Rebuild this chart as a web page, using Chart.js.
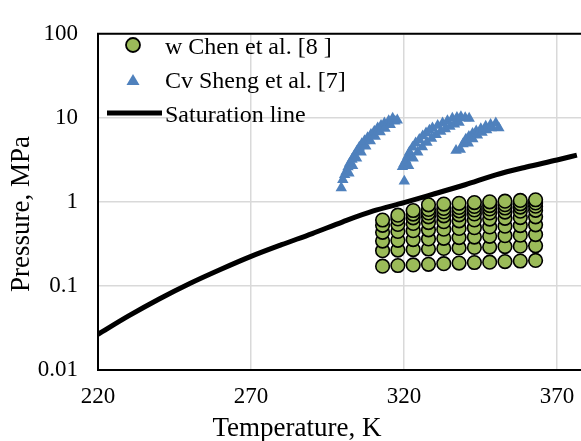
<!DOCTYPE html>
<html>
<head>
<meta charset="utf-8">
<script src="https://cdn.jsdelivr.net/npm/chart.js@4.4.0/dist/chart.umd.min.js"></script>
<style>
  html, body { margin: 0; padding: 0; background: #fff; overflow: hidden; }
  #wrap { width: 581px; height: 441px; overflow: hidden; }
</style>
</head>
<body>
<div id="wrap"><canvas id="grafico" width="596" height="441"></canvas></div>
<script>
const xTicks = [220, 270, 320, 370];
const yTicks = [0.01, 0.1, 1, 10, 100];
const yTickLabels = ["0.01", "0.1", "1", "10", "100"];
const xTitulo = "Temperature, K";
const yTitulo = "Pressure, MPa";

// w Chen et al. - isotermas de 313 a 363 K, uma linha por isócora
const chenT  = [313, 318, 323, 328, 333, 338, 343, 348, 353, 358, 363];
const chenP1 = [0.172, 0.175, 0.178, 0.181, 0.184, 0.187, 0.190, 0.192, 0.195, 0.198, 0.201];
const chenP2 = [0.263, 0.267, 0.271, 0.275, 0.279, 0.283, 0.287, 0.290, 0.294, 0.297, 0.300];
const chenP3 = [0.342, 0.349, 0.356, 0.362, 0.369, 0.376, 0.382, 0.389, 0.396, 0.402, 0.409];
const chenP4 = [0.435, 0.445, 0.455, 0.465, 0.474, 0.484, 0.494, 0.504, 0.514, 0.523, 0.533];
const chenP5 = [0.526, 0.540, 0.554, 0.568, 0.582, 0.596, 0.610, 0.624, 0.638, 0.651, 0.665];
const chenP6 = [0.609, 0.627, 0.646, 0.664, 0.683, 0.701, 0.720, 0.738, 0.757, 0.775, 0.794];
const chenP7 = [null, 0.695, 0.717, 0.738, 0.760, 0.782, 0.803, 0.825, 0.846, 0.868, 0.889];
const chenP8 = [null, null, 0.790, 0.813, 0.836, 0.859, 0.882, 0.905, 0.927, 0.950, 0.973];
const chenP9 = [null, null, null, 0.923, 0.943, 0.962, 0.982, 1.001, 1.021, 1.040, 1.060];

// Cv Sheng et al. - três arcos
const shengT = [
  299.5, 300.0, 300.6, 301.1, 301.7, 302.2, 303.0, 303.8, 304.6, 305.4,
  306.2, 307.1, 308.1, 309.2, 310.3, 311.4, 312.5, 313.6, 315.0, 316.3,
  302.0, 303.2, 304.5, 306.0, 307.5, 309.0, 310.6, 312.2, 313.8, 315.5, 317.0, 317.8,
  320.1, 319.5, 320.0, 320.6, 321.2, 321.8, 322.8, 323.8, 325.0, 326.1,
  327.2, 328.3, 329.3, 331.0, 332.6, 334.2, 335.8, 337.3, 338.6, 340.0, 341.3,
  321.5, 323.0, 324.5, 326.0, 327.5, 329.0, 330.5, 332.0, 333.5, 335.0, 336.5, 338.0,
  337.0, 338.4, 339.3, 340.2, 341.2, 342.4, 343.6, 345.1, 346.7, 348.3, 350.0,
  341.0, 342.5, 344.0, 345.5, 347.0, 348.5, 351.0
];
const shengP = [
  1.47, 1.84, 2.10, 2.30, 2.60, 2.86, 3.20, 3.57, 4.00, 4.46,
  4.90, 5.32, 5.80, 6.34, 6.90, 7.57, 8.10, 8.65, 9.20, 9.87,
  2.20, 2.70, 3.30, 3.90, 4.60, 5.30, 6.00, 6.80, 7.50, 8.30, 9.10, 9.40,
  1.76, 2.62, 2.85, 3.13, 3.50, 3.90, 4.46, 5.00, 5.50, 6.07,
  6.60, 7.10, 7.57, 8.10, 8.65, 9.20, 9.87, 10.1, 10.3, 10.0, 9.87,
  2.70, 3.30, 3.90, 4.50, 5.10, 5.70, 6.30, 6.90, 7.40, 7.90, 8.40, 8.80,
  4.08, 4.20, 4.90, 5.55, 6.00, 6.50, 6.94, 7.40, 7.92, 8.30, 8.65,
  5.00, 5.60, 6.20, 6.70, 7.20, 7.60, 7.57
];

// Linha de saturação
const satT = [220, 230, 240, 250, 260, 270, 280, 290, 300, 310, 320, 330, 340, 350, 360, 370, 376.5];
const satP = [0.0266, 0.044, 0.070, 0.107, 0.157, 0.225, 0.31, 0.42, 0.58, 0.78, 0.98, 1.25, 1.60, 2.10, 2.60, 3.15, 3.60];

const FONTE = "'Liberation Serif', 'Times New Roman', serif";
const VERDE = "#9BBB59";
const AZUL  = "#4F81BD";

const pontosChen = [];
[chenP1, chenP2, chenP3, chenP4, chenP5, chenP6, chenP7, chenP8, chenP9].forEach(linha => {
  linha.forEach((p, i) => { if (p != null) pontosChen.push({ x: chenT[i], y: p }); });
});
const pontosSheng = shengT.map((t, i) => ({ x: t, y: shengP[i] }));
const pontosSat = satT.map((t, i) => ({ x: t, y: satP[i] }));

// borda superior + títulos dos eixos (posição igual à do original)
const molduraTitulos = {
  id: "molduraTitulos",
  afterDraw(chart) {
    const { ctx, chartArea: a } = chart;
    ctx.save();
    ctx.strokeStyle = "#000";
    ctx.lineWidth = 2;
    ctx.beginPath();
    ctx.moveTo(a.left - 1, a.top);
    ctx.lineTo(a.right + 1, a.top);
    ctx.stroke();

    ctx.fillStyle = "#000";
    ctx.font = "27px " + FONTE;
    ctx.textAlign = "center";
    ctx.textBaseline = "middle";
    ctx.fillText(xTitulo, 297, 429);
    ctx.translate(22, 214);
    ctx.rotate(-Math.PI / 2);
    ctx.fillText(yTitulo, 0, 0);
    ctx.restore();
  }
};

// legenda dentro da área do gráfico
const legenda = {
  id: "legenda",
  afterDraw(chart) {
    const ctx = chart.ctx;
    ctx.save();

    ctx.beginPath();
    ctx.arc(133, 45, 7, 0, Math.PI * 2);
    ctx.fillStyle = VERDE;
    ctx.fill();
    ctx.lineWidth = 1.8;
    ctx.strokeStyle = "#000";
    ctx.stroke();

    ctx.beginPath();
    ctx.moveTo(133, 74);
    ctx.lineTo(139.5, 85);
    ctx.lineTo(126.5, 85);
    ctx.closePath();
    ctx.fillStyle = AZUL;
    ctx.fill();

    ctx.beginPath();
    ctx.moveTo(107, 113);
    ctx.lineTo(162, 113);
    ctx.lineWidth = 5;
    ctx.strokeStyle = "#000";
    ctx.stroke();

    ctx.font = "24px " + FONTE;
    ctx.fillStyle = "#000";
    ctx.textBaseline = "alphabetic";
    ctx.fillText("w Chen et al. [8 ]", 165, 53.5);
    ctx.fillText("Cv Sheng et al. [7]", 165, 88);
    ctx.fillText("Saturation line", 165, 121.5);
    ctx.restore();
  }
};

const ctx = document.getElementById("grafico").getContext("2d");
new Chart(ctx, {
  type: "scatter",
  data: {
    datasets: [
      {
        label: "w Chen et al. [8 ]",
        data: pontosChen,
        pointStyle: "circle",
        pointRadius: 6.8,
        backgroundColor: VERDE,
        borderColor: "#000",
        borderWidth: 1.6
      },
      {
        label: "Cv Sheng et al. [7]",
        data: pontosSheng,
        pointStyle: "triangle",
        pointRadius: 6.6,
        backgroundColor: AZUL,
        borderColor: AZUL,
        borderWidth: 0
      },
      {
        label: "Saturation line",
        data: pontosSat,
        showLine: true,
        borderColor: "#000",
        borderWidth: 5,
        pointRadius: 0,
        cubicInterpolationMode: "monotone",
        fill: false
      }
    ]
  },
  options: {
    responsive: false,
    animation: false,
    layout: { padding: { top: 23, right: 7, left: 0, bottom: 0 } },
    plugins: { legend: { display: false }, tooltip: { enabled: false } },
    scales: {
      x: {
        type: "linear",
        min: 220,
        max: 380,
        afterBuildTicks: s => { s.ticks = xTicks.map(v => ({ value: v })); },
        afterFit: s => { s.height = 71; },
        grid: { color: "#d9d9d9", lineWidth: 1.5, drawTicks: false },
        border: { color: "#000", width: 2 },
        ticks: { padding: 13, color: "#000", font: { family: FONTE, size: 23 } }
      },
      y: {
        type: "logarithmic",
        min: 0.01,
        max: 100,
        afterBuildTicks: s => { s.ticks = yTicks.map(v => ({ value: v })); },
        afterFit: s => { s.width = 98; },
        grid: { color: "#d9d9d9", lineWidth: 1.5, drawTicks: false },
        border: { color: "#000", width: 2 },
        ticks: {
          padding: 20, color: "#000", font: { family: FONTE, size: 23 },
          callback: v => { const i = yTicks.indexOf(v); return i >= 0 ? yTickLabels[i] : ""; }
        }
      }
    }
  },
  plugins: [molduraTitulos, legenda]
});
</script>
</body>
</html>
